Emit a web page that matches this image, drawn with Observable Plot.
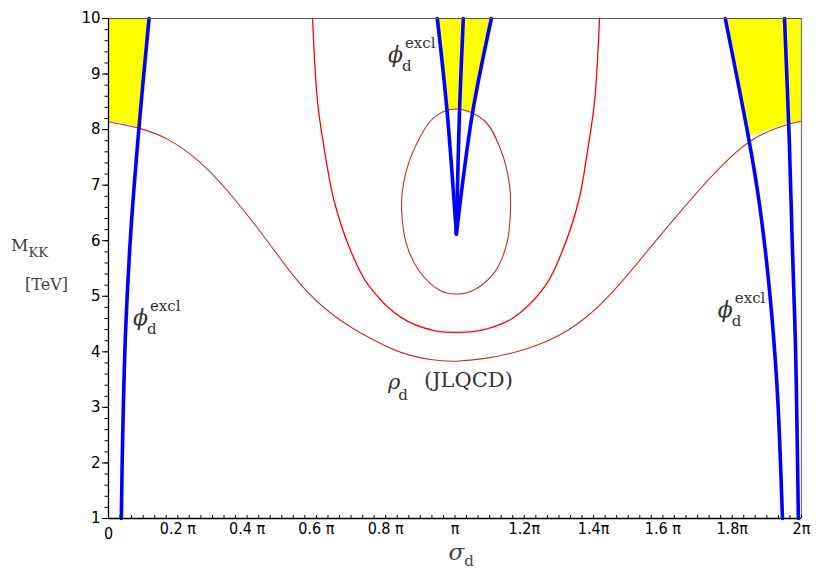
<!DOCTYPE html>
<html><head><meta charset="utf-8">
<script src="https://cdn.jsdelivr.net/npm/d3@7"></script>
<script src="https://cdn.jsdelivr.net/npm/@observablehq/plot@0.6"></script>
<style>body{margin:0;background:#fff;} #chart{width:818px;height:571px;}</style>
</head><body><div id="chart"></div>
<script>
// x values are in units of π (sigma_d / π), y = M_KK [TeV]
const xTickValues = [0, 0.2, 0.4, 0.6, 0.8, 1, 1.2, 1.4, 1.6, 1.8, 2];
const xTickLabels = ["0", "0.2 π", "0.4 π", "0.6 π", "0.8 π", "π", "1.2π", "1.4π", "1.6 π", "1.8π", "2π"];
const yTickValues = [1, 2, 3, 4, 5, 6, 7, 8, 9, 10];

// rho_d (JLQCD) contours
const rhoOuter = [[0,8.14],[0.088,8.04],[0.17,7.86],[0.266,7.44],[0.362,6.78],[0.459,6.00],[0.555,5.16],[0.651,4.62],[0.748,4.26],[0.844,3.96],[0.94,3.84],[1.0,3.82],[1.085,3.87],[1.18,3.99],[1.277,4.20],[1.374,4.56],[1.470,5.16],[1.566,5.90],[1.663,6.62],[1.759,7.30],[1.855,7.86],[1.952,8.09],[2,8.15]];
const rhoMiddle = [[0.589,10],[0.603,8.52],[0.622,7.68],[0.651,6.72],[0.699,5.82],[0.748,5.22],[0.844,4.62],[0.94,4.38],[1.0,4.35],[1.07,4.38],[1.165,4.60],[1.262,5.20],[1.31,5.82],[1.357,6.72],[1.384,7.68],[1.403,8.52],[1.417,10]];
const rhoInner = [[1.006,8.37],[1.085,8.16],[1.133,7.62],[1.157,7.02],[1.16,6.54],[1.15,5.96],[1.115,5.44],[1.05,5.10],[1.0,5.04],[0.955,5.11],[0.897,5.45],[0.86,5.94],[0.846,6.54],[0.851,7.02],[0.88,7.62],[0.94,8.22]];

// phi_d^excl boundaries
const phiLeft = [[0.037,1],[0.041,2.5],[0.049,4.32],[0.064,6.12],[0.088,8.04],[0.117,10]];
const phiCenterA = [[1.004,6.12],[0.977,8.34],[0.949,10]];
const phiCenterB = [[1.004,6.12],[1.013,8.34],[1.024,10]];
const phiCenterC = [[1.004,6.12],[1.050,8.28],[1.105,10]];
const phiRightA = [[1.780,10],[1.847,7.86],[1.873,6.9],[1.896,5.8],[1.915,4.6],[1.931,3.2],[1.945,1]];
const phiRightB = [[1.951,10],[1.965,7.75],[1.974,5.82],[1.983,4.02],[1.988,2.22],[1.991,1]];

// allowed (yellow) regions: lower boundary, upper boundary is M_KK = 10
const allowedLeft = [[0,8.14],[0.045,8.11],[0.088,8.04],[0.102,9.0],[0.117,10]];
const allowedCenter = [[0.949,10],[0.962,9.2],[0.977,8.34],[1.006,8.37],[1.03,8.34],[1.050,8.28],[1.078,9.14],[1.105,10]];
const allowedRight = [[1.780,10],[1.813,8.93],[1.847,7.86],[1.9,7.98],[1.952,8.09],[2,8.15]];

// label anchors (baseline of the main glyph)
const phiLabelPos = [[0.808,9.21],[0.072,4.47],[1.760,4.61]];
const rhoLabelPos = [[0.808,3.33]];

const xMinor = d3.range(0, 61).map(i => i / 30);
const yMinor = d3.range(0, 46).map(i => 1 + i / 5);

const serif = "'DejaVu Serif', 'Liberation Serif', serif";
const condensed = "'DejaVu Sans Condensed', 'Liberation Sans Narrow', 'Arial Narrow', sans-serif";
const txtColor = "#333";

const blueOpts = {x: d => d[0], y: d => d[1], stroke: "#0000ff", strokeWidth: 3.6, curve: "catmull-rom"};
const areaOpts = {x: d => d[0], y1: d => d[1], y2: () => 10, fill: "#ffff00"};

const chart = Plot.plot({
  width: 818, height: 571,
  marginLeft: 108, marginRight: 17, marginTop: 18, marginBottom: 53,
  x: {domain: [0, 2]},
  y: {domain: [1, 10]},
  style: {background: "#fff"},
  marks: [
    Plot.areaY(allowedLeft, areaOpts),
    Plot.areaY(allowedCenter, areaOpts),
    Plot.areaY(allowedRight, areaOpts),
    Plot.line(rhoOuter, {x: d => d[0], y: d => d[1], stroke: "#cc2b2b", strokeWidth: 1.1, curve: "basis"}),
    Plot.line(rhoMiddle, {x: d => d[0], y: d => d[1], stroke: "#ff0000", strokeWidth: 1.3, curve: "catmull-rom"}),
    Plot.line(rhoInner, {x: d => d[0], y: d => d[1], stroke: "#cc2b2b", strokeWidth: 1.1, curve: "catmull-rom-closed"}),
    Plot.line(phiLeft, blueOpts),
    Plot.line(phiCenterA, blueOpts),
    Plot.line(phiCenterB, blueOpts),
    Plot.line(phiCenterC, blueOpts),
    Plot.line(phiRightA, blueOpts),
    Plot.line(phiRightB, blueOpts),
    // frame
    Plot.ruleY([10], {stroke: "#555", strokeWidth: 1.2}),
    Plot.ruleX([2], {stroke: "#777", strokeWidth: 1.2}),
    Plot.ruleX([0], {stroke: "#000", strokeWidth: 1.3}),
    Plot.ruleY([1], {stroke: "#000", strokeWidth: 1.3}),
    // axes
    Plot.axisY({ticks: yMinor, tickSize: 3.5, text: null, label: null, stroke: "#000"}),
    Plot.axisY({ticks: yTickValues, tickSize: 6, tickPadding: 2, label: null, fontSize: 15, fontFamily: "'DejaVu Sans', sans-serif", fill: "#000", stroke: "#000"}),
    Plot.axisX({ticks: xMinor, tickSize: -3, text: null, label: null, stroke: "#000"}),
    Plot.axisX({ticks: xTickValues.slice(1), tickSize: 0, tickPadding: 4, label: null, tickFormat: d => xTickLabels[xTickValues.indexOf(d)], fontSize: 16, fontFamily: condensed, fill: "#000"}),
    Plot.axisX({ticks: [0], tickSize: 0, tickPadding: 9, label: null, tickFormat: () => xTickLabels[0], fontSize: 16, fontFamily: condensed, fill: "#000"})
  ]
});
document.getElementById("chart").appendChild(chart);

// rich-text labels (sub/superscripts) positioned via the plot's scales
const sx = chart.scale("x"), sy = chart.scale("y");
const svgSel = d3.select(chart.tagName.toLowerCase() === "svg" ? chart : chart.querySelector("svg"));
function rich(x0, y0, parts, color) {
  const t = svgSel.append("text").attr("x", x0).attr("y", y0)
    .attr("font-family", serif).attr("fill", color).attr("text-anchor", "start")
    .style("text-anchor", "start");
  let adv = 0;
  for (const p of parts) {
    const s = t.append("tspan").text(p.t).attr("font-size", p.size);
    if (p.italic) s.attr("font-style", "italic");
    if (p.x != null) s.attr("x", x0 + (p.x === "adv" ? adv + (p.extra || 0) : p.x));
    if (p.dy != null) s.attr("dy", p.dy);
    if (p.measure) adv = s.node().getComputedTextLength();
  }
}
for (const [x, y] of phiLabelPos) {
  rich(sx.apply(x), sy.apply(y), [
    {t: "ϕ", size: 22, italic: true, measure: true},
    {t: "d", size: 15, x: "adv", extra: -1, dy: 9},
    {t: "excl", size: 15, x: "adv", extra: 2, dy: -23}
  ], txtColor);
}
for (const [x, y] of rhoLabelPos) {
  rich(sx.apply(x), sy.apply(y), [
    {t: "ρ", size: 21, italic: true, measure: true},
    {t: "d", size: 15, x: "adv", extra: -2, dy: 11},
    {t: "(JLQCD)", size: 21, x: 36, dy: -13}
  ], txtColor);
}
// axis titles, placed relative to the frame
const frameLeft = 108, frameTop = 18, frameBottom = 571 - 53;
const frameMid = (frameTop + frameBottom) / 2;
rich(frameLeft - 97, frameMid - 17, [
  {t: "M", size: 17},
  {t: "KK", size: 13, dy: 6}
], "#444");
rich(frameLeft - 83, frameMid + 22, [{t: "[TeV]", size: 16}], "#444");
rich(sx.apply(1) - 6, frameBottom + 42, [
  {t: "σ", size: 23, italic: true},
  {t: "d", size: 15, dy: 6}
], "#444");
</script>
</body></html>
